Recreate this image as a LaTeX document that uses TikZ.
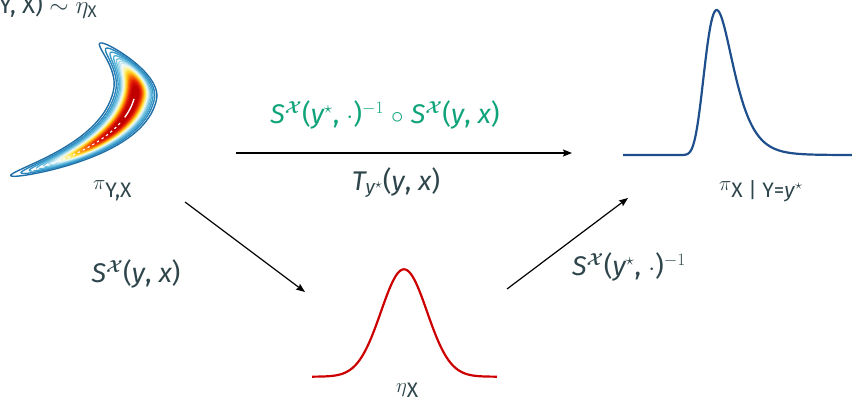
\documentclass[tikz,border=0pt]{standalone}
\usepackage{amsmath}
\usepackage{fontspec}
\setmainfont{Fira Sans}
\usetikzlibrary{arrows.meta}
\definecolor{txt}{HTML}{2E454B}
\definecolor{grn}{HTML}{0FA37A}
\definecolor{cblue}{HTML}{1F4E8C}
\definecolor{cred}{HTML}{CC0000}
\definecolor{bA}{HTML}{1F6FA6}
\definecolor{bB}{HTML}{2A85BB}
\definecolor{bC}{HTML}{3A9CCB}
\definecolor{bD}{HTML}{56B2D8}
\definecolor{bE}{HTML}{7CC6E2}
\definecolor{bF}{HTML}{A4D9EC}
\definecolor{bG}{HTML}{C9E9F2}
\definecolor{bH}{HTML}{EEF8F2}
\definecolor{bI}{HTML}{F7F7C4}
\definecolor{bJ}{HTML}{FBF19A}
\definecolor{bK}{HTML}{FDE95E}
\definecolor{bL}{HTML}{FED530}
\definecolor{bM}{HTML}{FEBB1A}
\definecolor{bN}{HTML}{FD9A0E}
\definecolor{bO}{HTML}{F87208}
\definecolor{bP}{HTML}{F04A05}
\definecolor{bQ}{HTML}{E42404}
\definecolor{bR}{HTML}{D20D05}
\definecolor{bS}{HTML}{C00000}
\newcommand\myit[1]{\text{\itshape #1}}
\newcommand\mySX{\myit{S}$^{\boldsymbol{\mathcal{X}}}$}
\tikzset{
  lbl/.style={inner sep=0pt, text=txt, font=\fontsize{27}{31}\selectfont},
  glbl/.style={lbl, text=grn},
  dlbl/.style={inner sep=0pt, text=txt},
  conn/.style={line width=1.2pt, -{Stealth[length=9pt,width=7pt,inset=1.5pt]}},
  curve/.style={line width=2.2pt}
}
\begin{document}
\begin{tikzpicture}[x=1pt,y=1pt]
\useasboundingbox (0,0) rectangle (852,400);
\clip (0,0) rectangle (852,400);

% top-left clipped formula
\node[dlbl, anchor=base west, font=\fontsize{24}{28}\selectfont] (top) at (-9,386) {(Y, X) $\sim\eta_{\text{X}}$};

% banana contours
\foreach \r/\c/\f in {1/bA/0,0.9/bB/0,0.82/bC/0,0.75/bD/0,0.69/bE/0,0.64/bF/0,0.6/bG/0,0.56/bH/1,0.52/bI/1,0.49/bJ/1,0.46/bK/1,0.43/bL/1,0.4/bM/1,0.37/bN/1,0.34/bO/1,0.3/bP/1,0.26/bQ/1,0.21/bR/1,0.15/bS/1}{
  \pgfmathsetmacro\Lp{44*(\r)^0.85}
  \pgfmathsetmacro\Lm{105*(\r)^0.45}
  \pgfmathsetmacro\w{22*\r}
  \ifnum\f=1 \def\fc{\c}\else\def\fc{none}\fi
  \begin{scope}[declare function={bu(\s)=cos(\s)*(cos(\s)>0?\Lp:\Lm); bv(\s)=(cos(\s)>0?0.022:0.0094)*bu(\s)*bu(\s)+\w*sin(\s);}]
    \draw[\c, fill=\fc, line width=1.4pt] plot[variable=\t, domain=0:357.6, samples=150]
      ({135+0.208*bu(\t)-0.978*bv(\t)},{305+0.978*bu(\t)+0.208*bv(\t)}) -- cycle;
  \end{scope}
}
\draw[white, line width=1.1pt, dash pattern=on 2.5pt off 3pt] plot[domain=-98:-30, samples=40]
  ({135+\x*0.208-0.0094*\x*\x*0.978},{305+\x*0.978+0.0094*\x*\x*0.208});
\draw[white, line width=1.3pt] plot[domain=-24:-4, samples=15]
  ({135+\x*0.208-0.0094*\x*\x*0.978},{305+\x*0.978+0.0094*\x*\x*0.208});
\node[dlbl, anchor=base west] (piyx) at (93,211) {\fontsize{21}{22}\selectfont$\pi$\raisebox{-8pt}{\fontsize{21}{22}\selectfont Y,X}};

% posterior (right)
\draw[cblue, curve] (623,245) -- (680,245) -- plot[domain=680:852, samples=150]
  (\x, {245+145*exp(1-(\x-716.7)/14-exp(-(\x-716.7)/14))});
\node[dlbl, anchor=base west] (pic) at (719,210) {\fontsize{21}{22}\selectfont$\pi$\raisebox{-7pt}{\fontsize{21}{22}\selectfont X | Y=\textit{y}$^{\star}$}};

% reference gaussian (bottom)
\draw[cred, curve] plot[domain=312:497, samples=120] (\x, {23.3+107.4*exp(-((\x-404)/23)^2/2)});
\node[dlbl, anchor=base west] (eta) at (396,8) {\fontsize{21}{22}\selectfont$\eta$\raisebox{-5pt}{\fontsize{21}{22}\selectfont X}};

% connectors
\coordinate (h1) at (236,247);
\coordinate (h2) at (572,247);
\coordinate (d1) at (185,198);
\coordinate (d2) at (305,108);
\coordinate (e1) at (507,111);
\coordinate (e2) at (628,202);
\draw[conn] (h1) -- (h2);
\draw[conn] (d1) -- (d2);
\draw[conn] (e1) -- (e2);

% labels
\node[glbl, anchor=base] (glab) at (385,277) {\mySX(\myit{y}$^{\star}$, $\cdot$)$^{-1}$ $\circ$ \mySX(\myit{y}, \myit{x})};
\node[lbl, anchor=base] (tlab) at (396,210) {$\myit{T}_{\myit{y}^{\star}}$(\myit{y}, \myit{x})};
\node[lbl, anchor=base] (slab) at (136,118) {\mySX(\myit{y}, \myit{x})};
\node[lbl, anchor=base] (sinv) at (629,125) {\mySX(\myit{y}$^{\star}$, $\cdot$)$^{-1}$};
\end{tikzpicture}
\end{document}
